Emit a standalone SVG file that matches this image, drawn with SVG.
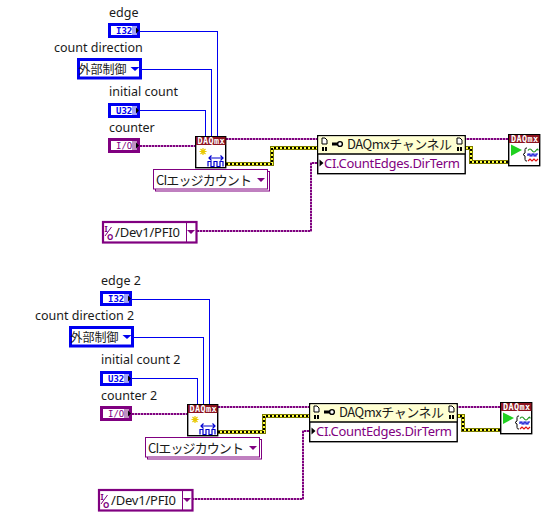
<svg xmlns="http://www.w3.org/2000/svg" width="551" height="529" viewBox="0 0 551 529">
<style>
text{font-family:"Noto Sans","Noto Sans CJK JP",sans-serif;font-size:12.5px;fill:#1a1a1a}
.jp{font-family:"Noto Sans CJK JP",sans-serif}
.mono{font-family:"DejaVu Sans Mono",monospace;font-weight:bold;font-size:9px}
.hd{font-family:"DejaVu Sans Mono",monospace;font-weight:bold;font-size:8.5px;fill:#fff}
.b{fill:none;stroke:#0000f0;stroke-width:1;shape-rendering:crispEdges}
.pb{fill:none;stroke:#800080;stroke-width:1.500;stroke-dasharray:2 1;shape-rendering:crispEdges}
.pbg{fill:none;stroke:#c79ac7;stroke-width:2;shape-rendering:crispEdges}
.tb{fill:none;stroke:#7a7a00;stroke-width:4;shape-rendering:crispEdges}
.ty{fill:none;stroke:#ffff40;stroke-width:2;shape-rendering:crispEdges}
.tk{fill:none;stroke:#000;stroke-width:2;stroke-dasharray:2 2;shape-rendering:crispEdges}
.term{fill:#fff;stroke-width:3;shape-rendering:crispEdges}
.bl{stroke:#0000f0}.pu{stroke:#800080}
.box{fill:#fff;stroke:#000;stroke-width:1.400}
.iot{font-size:8px;fill:#800080;font-weight:bold}
.cn{font-size:13px}
</style>
<defs>
<g id="createIcon">
<rect class="box" x="0.700" y="0.700" width="30" height="31"/>
<rect x="1" y="1" width="29.500" height="8" fill="#8c1420"/>
<text class="hd" x="2.500" y="7.800" textLength="27">DAQmx</text>
<path d="M8 12v7M4.500 15.500h7M5.500 13l5 5M10.500 13l-5 5" stroke="#e8c800" stroke-width="1.200"/>
<path d="M14 22h14M16.500 19.500L14 22l2.500 2.500M25.500 19.500L28 22l-2.500 2.500" fill="none" stroke="#0000d0" stroke-width="1.200"/>
<path d="M13 30.500v-5h3v5h3v-5h3v5h3v-5h3v5" fill="none" stroke="#0000d0" stroke-width="1.200"/>
</g>
<g id="startIcon">
<rect class="box" x="0.700" y="0.700" width="31" height="31"/>
<rect x="1" y="1" width="30.500" height="8" fill="#8c1420"/>
<text class="hd" x="3" y="7.800" textLength="27">DAQmx</text>
<path d="M3 10.500L14 16 3 22z" fill="#20d020"/>
<path d="M19 14c-2 0-2 .5-2 3v2l-2 1.500 2 1.500v2c0 2.500 0 3 2 3" fill="none" stroke="#000" stroke-width="1"/>
<path d="M20 16.500q2-3 4 0t4 0 2 0" fill="none" stroke="#109010" stroke-width="1.200"/>
<path d="M20 22v-2h2v2h2v-2h2v2h2v-2h2" fill="none" stroke="#0000d0" stroke-width="1.200"/>
<path d="M20 27l2-2 2 2 2-2 2 2 2-2" fill="none" stroke="#e01010" stroke-width="1.200"/>
</g>
<g id="propHead">
<rect class="box" x="0.700" y="0.700" width="147.500" height="38"/>
<rect x="1.400" y="1.400" width="146" height="17.600" fill="#ffffd2"/>
<path d="M0.700 19h147.500" stroke="#000" stroke-width="1.400"/>
<path d="M5 3h3l2 2v4H5zM140 3h3l2 2v4h-5z" fill="#fff" stroke="#000" stroke-width="1"/>
<path d="M5 12h2v4H5zM8 12h2v4H8zM140 12h2v4h-2zM143 12h2v4h-2z" fill="#000"/>
<path d="M15 7.500h6v3h-6z" fill="#000"/>
<circle cx="23" cy="9" r="2.400" fill="#fff" stroke="#000" stroke-width="1.400"/>
<path d="M2.500 24.500l4 3.500-4 3.500z" fill="#000"/>
</g>
<path id="ddP" d="M-4 0h8l-4 4z" fill="#800080"/>
<path id="ddB" d="M-4.500 0h9l-4.500 4z" fill="#0000f0"/>
</defs>

<g id="connectors">
<path class="b" d="M140 31.500H217.500V136"/>
<path class="b" d="M141 69.500H211.500V136"/>
<path class="b" d="M140 110.500H205.500V136"/>
<path class="pbg" d="M140 146H195M226 139H317M464 139H508M197 231H311V163H317"/>
<path class="pb" d="M140 146H195M226 139H317M464 139H508M197 231H311V163H317"/>
<path class="tb" d="M226 164H272V148H317M464 148H471V162H508"/>
<path class="ty" d="M226 164H272V148H317M464 148H471V162H508"/>
<path class="tk" d="M226 164H272V148H317M464 148H471V162H508"/>

<path class="b" d="M132 299.500H209.500V404"/>
<path class="b" d="M133 337.500H203.500V404"/>
<path class="b" d="M132 378.500H197.500V404"/>
<path class="pbg" d="M132 414H187M218 407H309M456 407H500M192 499H303V431H309"/>
<path class="pb" d="M132 414H187M218 407H309M456 407H500M192 499H303V431H309"/>
<path class="tb" d="M218 432H264V416H309M456 416H463V430H500"/>
<path class="ty" d="M218 432H264V416H309M456 416H463V430H500"/>
<path class="tk" d="M218 432H264V416H309M456 416H463V430H500"/>
</g>

<g id="edge" transform="translate(108,23)">
<text x="1" y="-6">edge</text>
<rect class="term bl" x="1.500" y="1.500" width="29" height="12"/>
<rect x="24" y="3" width="5" height="9" fill="#a0a0f8"/>
<text class="mono" x="8" y="11" style="fill:#0000f0">I32</text>
<path d="M28 4.500l3 3-3 3z" fill="#000"/>
</g>
<g id="count-direction" transform="translate(77,58)">
<text x="-23" y="-6">count direction</text>
<rect x="1.500" y="1.500" width="62" height="18.500" fill="#fff" stroke="#0000f0" stroke-width="3"/>
<text class="jp" x="1.500" y="15.500" style="font-size:12px">外部制御</text>
<use href="#ddB" x="58" y="9"/>
</g>
<g id="initial-count" transform="translate(108,103)">
<text x="1" y="-7">initial count</text>
<rect class="term bl" x="1.500" y="1.500" width="29" height="12"/>
<rect x="24" y="3" width="5" height="9" fill="#a0a0f8"/>
<text class="mono" x="8" y="11" style="fill:#0000f0">U32</text>
<path d="M28 4.500l3 3-3 3z" fill="#000"/>
</g>
<g id="counter" transform="translate(108,138)">
<text x="1" y="-6">counter</text>
<rect class="term pu" x="1.500" y="1.500" width="29" height="12"/>
<rect x="24" y="3" width="5" height="9" fill="#c090c0"/>
<text class="mono" x="8" y="11" style="fill:#800080;font-weight:normal">I/O</text>
<path d="M28 4.500l3 3-3 3z" fill="#000"/>
</g>
<g id="create-channel" transform="translate(195,136)"><use href="#createIcon"/></g>
<g id="ci-edge-const" transform="translate(153,169)">
<rect x="2.500" y="2.500" width="114" height="19.500" fill="#fff" stroke="#800080" stroke-width="1"/>
<rect x="0.500" y="0.500" width="114" height="19.500" fill="#fff" stroke="#800080" stroke-width="1"/>
<text class="jp cn" x="3" y="15.500" textLength="96">CIエッジカウント</text>
<use href="#ddP" x="108" y="9"/>
</g>
<g id="pfi-const" transform="translate(102,221)">
<rect x="1" y="1" width="93.500" height="20.500" fill="#fff" stroke="#800080" stroke-width="2.200"/>
<path d="M84.500 1v20.500" stroke="#800080" stroke-width="1"/>
<text class="iot" x="2.500" y="11">I</text>
<path d="M3 15L9.500 6" stroke="#800080" stroke-width="1"/>
<text class="iot" x="5" y="18.500">O</text>
<text class="cn" x="13" y="15.500" textLength="65">/Dev1/PFI0</text>
<use href="#ddP" x="89" y="9"/>
</g>
<g id="property-node" transform="translate(317,135)">
<use href="#propHead"/>
<text class="jp cn" x="30" y="14" textLength="105">DAQmxチャンネル</text>
<text class="cn" x="7" y="33" textLength="136" style="fill:#800080">CI.CountEdges.DirTerm</text>
</g>
<g id="start-task" transform="translate(508,134)"><use href="#startIcon"/></g>

<g id="edge-2" transform="translate(100,291)">
<text x="1" y="-6">edge 2</text>
<rect class="term bl" x="1.500" y="1.500" width="29" height="12"/>
<rect x="24" y="3" width="5" height="9" fill="#a0a0f8"/>
<text class="mono" x="8" y="11" style="fill:#0000f0">I32</text>
<path d="M28 4.500l3 3-3 3z" fill="#000"/>
</g>
<g id="count-direction-2" transform="translate(69,326)">
<text x="-34" y="-6">count direction 2</text>
<rect x="1.500" y="1.500" width="62" height="18.500" fill="#fff" stroke="#0000f0" stroke-width="3"/>
<text class="jp" x="1.500" y="15.500" style="font-size:12px">外部制御</text>
<use href="#ddB" x="58" y="9"/>
</g>
<g id="initial-count-2" transform="translate(100,371)">
<text x="1" y="-7">initial count 2</text>
<rect class="term bl" x="1.500" y="1.500" width="29" height="12"/>
<rect x="24" y="3" width="5" height="9" fill="#a0a0f8"/>
<text class="mono" x="8" y="11" style="fill:#0000f0">U32</text>
<path d="M28 4.500l3 3-3 3z" fill="#000"/>
</g>
<g id="counter-2" transform="translate(100,406)">
<text x="1" y="-6">counter 2</text>
<rect class="term pu" x="1.500" y="1.500" width="29" height="12"/>
<rect x="24" y="3" width="5" height="9" fill="#c090c0"/>
<text class="mono" x="8" y="11" style="fill:#800080;font-weight:normal">I/O</text>
<path d="M28 4.500l3 3-3 3z" fill="#000"/>
</g>
<g id="create-channel-2" transform="translate(187,404)"><use href="#createIcon"/></g>
<g id="ci-edge-const-2" transform="translate(145,437)">
<rect x="2.500" y="2.500" width="114" height="19.500" fill="#fff" stroke="#800080" stroke-width="1"/>
<rect x="0.500" y="0.500" width="114" height="19.500" fill="#fff" stroke="#800080" stroke-width="1"/>
<text class="jp cn" x="3" y="15.500" textLength="96">CIエッジカウント</text>
<use href="#ddP" x="108" y="9"/>
</g>
<g id="pfi-const-2" transform="translate(98,489)">
<rect x="1" y="1" width="93.500" height="20.500" fill="#fff" stroke="#800080" stroke-width="2.200"/>
<path d="M84.500 1v20.500" stroke="#800080" stroke-width="1"/>
<text class="iot" x="2.500" y="11">I</text>
<path d="M3 15L9.500 6" stroke="#800080" stroke-width="1"/>
<text class="iot" x="5" y="18.500">O</text>
<text class="cn" x="13" y="15.500" textLength="65">/Dev1/PFI0</text>
<use href="#ddP" x="89" y="9"/>
</g>
<g id="property-node-2" transform="translate(309,403)">
<use href="#propHead"/>
<text class="jp cn" x="30" y="14" textLength="105">DAQmxチャンネル</text>
<text class="cn" x="7" y="33" textLength="136" style="fill:#800080">CI.CountEdges.DirTerm</text>
</g>
<g id="start-task-2" transform="translate(500,402)"><use href="#startIcon"/></g>
</svg>
